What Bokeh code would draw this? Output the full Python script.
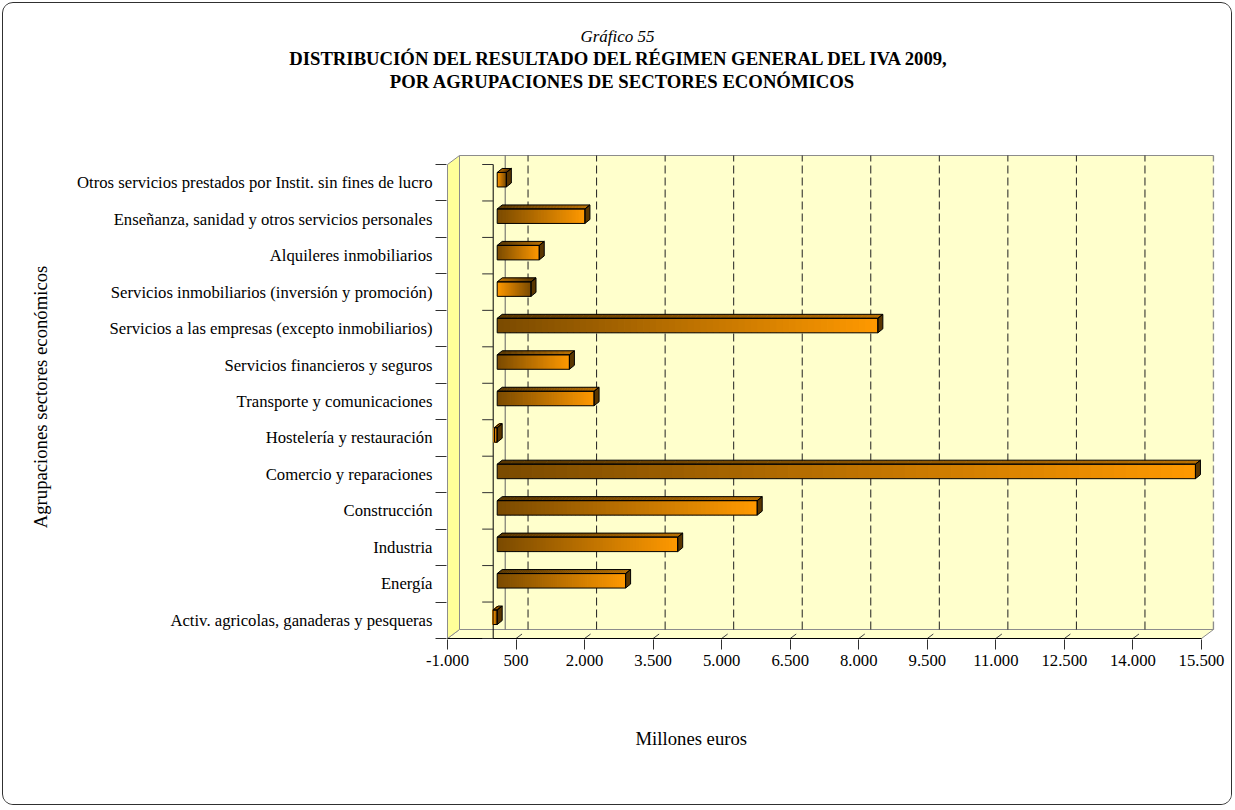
import numpy as np
from bokeh.plotting import figure
from bokeh.models import Range1d, FixedTicker, Title
from bokeh.embed import file_html
from bokeh.resources import INLINE

# ---------------- data (bottom to top) ----------------
CATEGORIES = [
    "Activ. agricolas, ganaderas y pesqueras",
    "Energía",
    "Industria",
    "Construcción",
    "Comercio y reparaciones",
    "Hostelería y restauración",
    "Transporte y comunicaciones",
    "Servicios financieros y seguros",
    "Servicios a las empresas (excepto inmobiliarios)",
    "Servicios inmobiliarios (inversión y promoción)",
    "Alquileres inmobiliarios",
    "Enseñanza, sanidad y otros servicios personales",
    "Otros servicios prestados por Instit. sin fines de lucro",
]
VALUES = [-90, 2810, 3950, 5690, 15280, -60, 2120, 1580, 8330, 740, 920, 1920, 200]
X_TICKS = [-1000, 500, 2000, 3500, 5000, 6500, 8000, 9500, 11000, 12500, 14000, 15500]

TITLE_1 = "Gráfico 55"
TITLE_2 = "DISTRIBUCIÓN DEL RESULTADO DEL RÉGIMEN GENERAL DEL IVA 2009,"
TITLE_3 = "POR AGRUPACIONES DE SECTORES ECONÓMICOS"
X_TITLE = "Millones euros"
Y_TITLE = "Agrupaciones sectores económicos"

# gradient runs orange->dark (instead of dark->orange) for these bars
REVERSED_GRADIENT = {
    "Servicios inmobiliarios (inversión y promoción)",
    "Otros servicios prestados por Instit. sin fines de lucro",
}

# ---------------- geometry / style ----------------
FONT = "Liberation Serif"
W, H = 1230, 803
OX, OY = 3, 3             # page position of the canvas origin
FRAME_L, FRAME_T, FRAME_W, FRAME_H = 443, 151, 768, 485
FRONT_W_PX = 754          # px between first and last x tick (front plane)
FRONT_H_PX = 474          # px covered by the 13 category bands (front plane)
DEPTH_X_PX, DEPTH_Y_PX = 12, 9

n = len(CATEGORIES)
sx = FRONT_W_PX / (X_TICKS[-1] - X_TICKS[0])   # px per unit
sy = FRONT_H_PX / n                            # px per category
x_start = X_TICKS[0] - 1 / sx
x_end = x_start + FRAME_W / sx
y_start = -0.5 - 1 / sy
y_end = y_start + FRAME_H / sy
dxu = DEPTH_X_PX / sx
dyu = DEPTH_Y_PX / sy
y_lo, y_hi = -0.5, n - 0.5
x_lo, x_hi = X_TICKS[0], X_TICKS[-1]

p = figure(width=W, height=H, output_backend="svg", toolbar_location=None,
           x_range=Range1d(x_start, x_end), y_range=Range1d(y_start, y_end),
           min_border_left=FRAME_L, min_border_right=W - FRAME_L - FRAME_W,
           min_border_top=FRAME_T, min_border_bottom=H - FRAME_T - FRAME_H,
           title=None)
p.outline_line_color = None
p.background_fill_color = "white"
p.border_fill_color = "white"
p.xgrid.visible = False
p.ygrid.visible = False
p.styles = {"border": "1px solid #303030", "border-radius": "11px",
            "overflow": "hidden", "margin": "2px 0 0 2px"}

# ---------------- 3D box ----------------
GRAY = "#8c8c8c"
p.quad(left=[x_lo + dxu], right=[x_hi + dxu], bottom=[y_lo + dyu], top=[y_hi + dyu],
       fill_color="#FFFFCC", line_color=None)
p.patch([x_lo, x_hi, x_hi + dxu, x_lo + dxu], [y_lo, y_lo, y_lo + dyu, y_lo + dyu],
        fill_color="#FFFFCC", line_color=GRAY, line_width=1)
p.patch([x_lo, x_lo, x_lo + dxu, x_lo + dxu], [y_lo, y_hi, y_hi + dyu, y_lo + dyu],
        fill_color="#FFFF99", line_color=GRAY, line_width=1)
p.segment(x0=[x_lo + dxu], y0=[y_hi + dyu], x1=[x_hi + dxu], y1=[y_hi + dyu],
          line_color=GRAY, line_width=1)
p.segment(x0=[x_hi + dxu], y0=[y_lo + dyu], x1=[x_hi + dxu], y1=[y_hi + dyu],
          line_color=GRAY, line_width=1.5, line_dash="8 4")
inner = X_TICKS[1:-1]
p.segment(x0=[v + dxu for v in inner], y0=[y_lo + dyu] * len(inner),
          x1=[v + dxu for v in inner], y1=[y_hi + dyu] * len(inner),
          line_color="#202020", line_width=1, line_dash="8 4")
p.segment(x0=[dxu], y0=[y_lo + dyu], x1=[dxu], y1=[y_hi + dyu], line_color="#606060", line_width=1)
p.segment(x0=inner, y0=[y_lo] * len(inner), x1=[v + dxu / 2 for v in inner],
          y1=[y_lo + dyu / 2] * len(inner), line_color="#404040", line_width=1)
p.segment(x0=[x_lo], y0=[y_lo], x1=[x_hi], y1=[y_lo], line_color="black", line_width=1)
bounds = [i - 0.5 for i in range(n + 1)]
p.segment(x0=[0], y0=[y_lo], x1=[0], y1=[y_hi], line_color="black", line_width=1)
p.segment(x0=[-11 / sx] * len(bounds), y0=bounds, x1=[0] * len(bounds), y1=bounds,
          line_color="#303030", line_width=1)

# ---------------- bars ----------------
DARK = np.array([122, 74, 0])
ORANGE = np.array([255, 153, 0])
NSL = 60
bx, by = 4 / sx, 3 / sy
hh = 7.25 / sy
ex, ey = 5 / sx, 4 / sy
ovl = 0.8 / sx


def hexc(rgb):
    r, g, b = [int(round(c)) for c in rgb]
    return f"#{r:02x}{g:02x}{b:02x}"


ql, qr, qb, qt, qc = [], [], [], [], []
tx, ty, tc = [], [], []
for i, (cat, v) in enumerate(zip(CATEGORIES, VALUES)):
    base, tip = bx, v + bx
    y0, y1 = i + by - hh, i + by + hh
    edges = np.linspace(base, tip, NSL + 1)
    sgn = 1 if v >= 0 else -1
    for k in range(NSL):
        t = (k + 0.5) / NSL
        if cat in REVERSED_GRADIENT:
            t = 1 - t
        col = DARK + (ORANGE - DARK) * t
        a, b = edges[k], edges[k + 1]
        if k < NSL - 1:
            b = b + sgn * ovl
        lo, hi = min(a, b), max(a, b)
        ql.append(lo); qr.append(hi); qb.append(y0); qt.append(y1); qc.append(hexc(col))
        tx.append([lo, hi, hi + ex, lo + ex]); ty.append([y1, y1, y1 + ey, y1 + ey])
        tc.append(hexc(col * 0.72))
p.quad(left=ql, right=qr, bottom=qb, top=qt, fill_color=qc, line_color=None)
p.patches(tx, ty, fill_color=tc, line_color=None)

ox, oy, sxs, sys_, tox, toy = [], [], [], [], [], []
for i, v in enumerate(VALUES):
    x0, x1 = min(bx, v + bx), max(bx, v + bx)
    y0, y1 = i + by - hh, i + by + hh
    ox.append([x0, x1, x1, x0]); oy.append([y0, y0, y1, y1])
    sxs.append([x1, x1 + ex, x1 + ex, x1]); sys_.append([y0, y0 + ey, y1 + ey, y1])
    tox.append([x0, x1, x1 + ex, x0 + ex]); toy.append([y1, y1, y1 + ey, y1 + ey])
p.patches(sxs, sys_, fill_color="#5a3600", line_color="black", line_width=1)
p.patches(tox, toy, fill_color=None, line_color="black", line_width=1)
p.patches(ox, oy, fill_color=None, line_color="black", line_width=1)

# ---------------- axes ----------------
xa = p.xaxis[0]
xa.ticker = FixedTicker(ticks=X_TICKS, minor_ticks=[])
xa.major_label_overrides = {v: f"{v:,}".replace(",", ".") for v in X_TICKS}
xa.axis_line_color = None
xa.major_tick_out = 10
xa.major_tick_in = 0
xa.major_tick_line_color = "#303030"
xa.minor_tick_line_color = None
xa.major_label_text_font = FONT
xa.major_label_text_font_size = "16.7px"
xa.major_label_text_color = "black"
xa.major_label_standoff = 5

ya = p.yaxis[0]
ya.ticker = FixedTicker(ticks=list(range(n)), minor_ticks=bounds)
ya.major_label_overrides = {i: c for i, c in enumerate(CATEGORIES)}
ya.axis_line_color = None
ya.major_tick_out = 0
ya.major_tick_in = 0
ya.minor_tick_out = 11
ya.minor_tick_in = 0
ya.minor_tick_line_color = "#303030"
ya.major_label_text_font = FONT
ya.major_label_text_font_size = "16.7px"
ya.major_label_text_color = "black"
ya.major_label_standoff = 3
ya.axis_label = Y_TITLE
ya.axis_label_text_font = FONT
ya.axis_label_text_font_size = "18.7px"
ya.axis_label_text_font_style = "normal"
ya.axis_label_text_color = "black"
ya.axis_label_standoff = 23

# ---------------- titles (left-aligned, offset from the frame's left edge) ----------------
# approximate text widths in em (Times/Liberation Serif metrics)
EM_T1, EM_T2, EM_T3 = 4.36, 35.75, 25.0


def add_title(text, where, size_px, style, standoff, page_left, line_height=1.2):
    p.add_layout(Title(text=text, align="left", offset=(page_left - OX) - FRAME_L,
                       standoff=standoff, text_font=FONT, text_font_size=f"{size_px}px",
                       text_font_style=style, text_color="black",
                       text_line_height=line_height), where)


# spacer closest to the frame, then the three title lines going outwards
p.add_layout(Title(text=" ", standoff=60, text_font_size="1px"), "above")
add_title(TITLE_3, "above", 18.7, "bold", 0, 623 - EM_T3 * 18.7 / 2, line_height=1.1)
add_title(TITLE_2, "above", 18.7, "bold", 0, 623 - EM_T2 * 18.7 / 2)
add_title(TITLE_1, "above", 17.0, "italic", 0, 617 - EM_T1 * 17.0 / 2)
add_title(X_TITLE, "below", 18.7, "normal", 114, 635, line_height=1.0)

open("out.html", "w").write(file_html(p, INLINE))
